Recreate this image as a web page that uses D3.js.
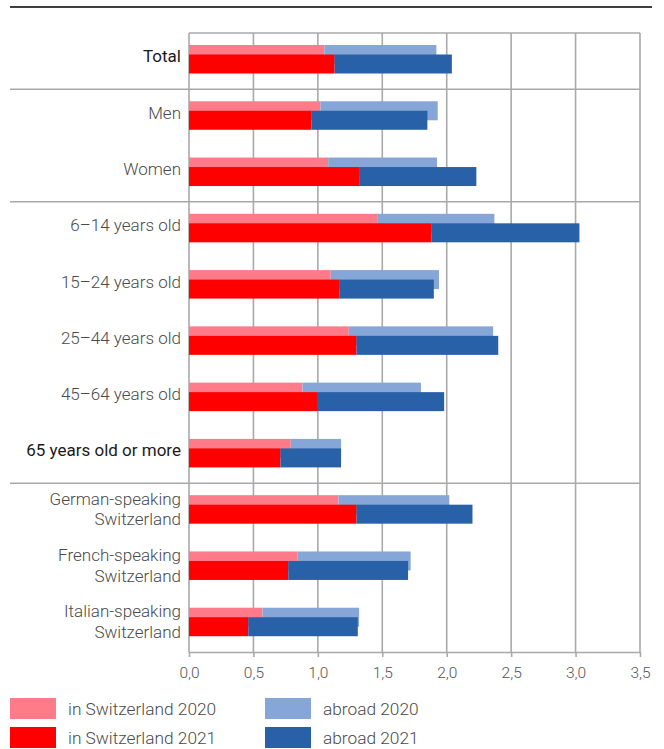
<!DOCTYPE html>
<html>
<head>
<meta charset="utf-8">
<script src="https://cdn.jsdelivr.net/npm/d3@7"></script>
<style>
  html, body { margin: 0; padding: 0; background: #fff; }
  svg { display: block; font-family: Roboto, "Noto Sans", sans-serif; }
</style>
</head>
<body>
<svg id="chart" width="664" height="749"></svg>
<script>
// Categories (multi-line labels split with "\n")
const categories = [
  "Total", "Men", "Women",
  "6–14 years old", "15–24 years old", "25–44 years old", "45–64 years old", "65 years old or more",
  "German-speaking\nSwitzerland", "French-speaking\nSwitzerland", "Italian-speaking\nSwitzerland"
];
// Labels drawn in dark text
const emphasised = ["Total", "65 years old or more"];

// Trips per person, stacked: in Switzerland + abroad
const inCH2020     = [1.05, 1.02, 1.08, 1.46, 1.10, 1.24, 0.88, 0.79, 1.16, 0.84, 0.57];
const abroad2020   = [0.87, 0.91, 0.845, 0.91, 0.84, 1.12, 0.92, 0.39, 0.86, 0.88, 0.75];
const inCH2021     = [1.13, 0.95, 1.32, 1.88, 1.17, 1.30, 1.00, 0.71, 1.30, 0.77, 0.46];
const abroad2021   = [0.91, 0.90, 0.91, 1.15, 0.73, 1.10, 0.98, 0.47, 0.90, 0.93, 0.85];

const xTicks = [0, 0.5, 1, 1.5, 2, 2.5, 3, 3.5];
// Group breaks: a separator is drawn above these categories
const groupStarts = ["Men", "6–14 years old", "German-speaking\nSwitzerland"];

const legendItems = [
  { label: "in Switzerland 2020", color: "#ff7b89" },
  { label: "in Switzerland 2021", color: "#ff0000" },
  { label: "abroad 2020", color: "#85a6d6" },
  { label: "abroad 2021", color: "#2961a8" }
];
const colors = { ch2020: "#ff7b89", ab2020: "#85a6d6", ch2021: "#ff0000", ab2021: "#2961a8" };

const svg = d3.select("#chart");
const plotLeft = 189, plotRight = 640, plotTop = 33, plotBottom = 652;

const x = d3.scaleLinear().domain([0, 3.5]).range([plotLeft, plotRight]);
const y = d3.scaleBand().domain(categories).range([plotTop, plotBottom]).padding(0);
const barH = 19;
const off2020 = 12, off2021 = 21.5;

// Rule across the top
svg.append("line")
  .attr("x1", 10).attr("x2", 652).attr("y1", 7).attr("y2", 7)
  .attr("stroke", "#3f3f3f").attr("stroke-width", 2);

// Vertical gridlines
svg.append("g").selectAll("line").data(xTicks).join("line")
  .attr("x1", d => x(d)).attr("x2", d => x(d))
  .attr("y1", plotTop).attr("y2", plotBottom)
  .attr("stroke", "#a9a9a9").attr("stroke-width", 1.6);

// Frame top
svg.append("line")
  .attr("x1", plotLeft).attr("x2", plotRight).attr("y1", plotTop).attr("y2", plotTop)
  .attr("stroke", "#a9a9a9").attr("stroke-width", 1.6);

// Group separators
svg.append("g").selectAll("line").data(groupStarts).join("line")
  .attr("x1", 10).attr("x2", plotRight)
  .attr("y1", d => y(d)).attr("y2", d => y(d))
  .attr("stroke", "#a9a9a9").attr("stroke-width", 1.6);

// Bars
const rows = categories.map((c, i) => ({
  c, ch20: inCH2020[i], ab20: abroad2020[i], ch21: inCH2021[i], ab21: abroad2021[i]
}));
const bars = svg.append("g");
function drawSeg(x0f, x1f, off, color) {
  bars.append("g").selectAll("rect").data(rows).join("rect")
    .attr("x", d => x(x0f(d)))
    .attr("width", d => x(x1f(d)) - x(x0f(d)))
    .attr("y", d => y(d.c) + off)
    .attr("height", barH)
    .attr("fill", color);
}
drawSeg(d => 0, d => d.ch20, off2020, colors.ch2020);
drawSeg(d => d.ch20, d => d.ch20 + d.ab20, off2020, colors.ab2020);
drawSeg(d => 0, d => d.ch21, off2021, colors.ch2021);
drawSeg(d => d.ch21, d => d.ch21 + d.ab21, off2021, colors.ab2021);

// Bottom axis
const xAxis = d3.axisBottom(x).tickValues(xTicks)
  .tickFormat(d => d3.format(".1f")(d).replace(".", ","))
  .tickSize(5).tickSizeOuter(0);
const ax = svg.append("g").attr("transform", `translate(0,${plotBottom})`).call(xAxis);
ax.select(".domain").attr("stroke", "#a9a9a9").attr("stroke-width", 1.6);
ax.selectAll(".tick line").attr("stroke", "#a9a9a9").attr("stroke-width", 1.6);
ax.selectAll(".tick text")
  .attr("fill", "#555").attr("font-size", 15.5).attr("font-weight", 300)
  .attr("font-family", "Roboto, sans-serif").attr("dy", "1.15em");

// Category labels
const labels = svg.append("g");
categories.forEach(c => {
  const lines = c.split("\n");
  const strong = emphasised.includes(c);
  const cy = y(c) + (lines.length > 1 ? 26 : 23.5);
  const t = labels.append("text")
    .attr("x", 181).attr("text-anchor", "end")
    .attr("font-size", strong ? 17 : 17)
    .attr("font-weight", strong ? 400 : 300)
    .attr("fill", strong ? "#1a1a1a" : "#4a4a4a");
  lines.forEach((ln, k) => {
    t.append("tspan").attr("x", 181)
      .attr("y", cy + (k - (lines.length - 1) / 2) * 20.5)
      .attr("dy", "0.35em")
      .text(ln);
  });
});

// Legend
const lg = svg.append("g");
legendItems.forEach((d, i) => {
  const col = Math.floor(i / 2), row = i % 2;
  const gx = 10 + col * 255, gy = 698 + row * 29;
  lg.append("rect").attr("x", gx).attr("y", gy).attr("width", 46).attr("height", 21).attr("fill", d.color);
  lg.append("text").attr("x", gx + 58).attr("y", gy + 10.5).attr("dy", "0.35em")
    .attr("font-size", 17.3).attr("font-weight", 300).attr("fill", "#4a4a4a").text(d.label);
});
</script>
</body>
</html>
